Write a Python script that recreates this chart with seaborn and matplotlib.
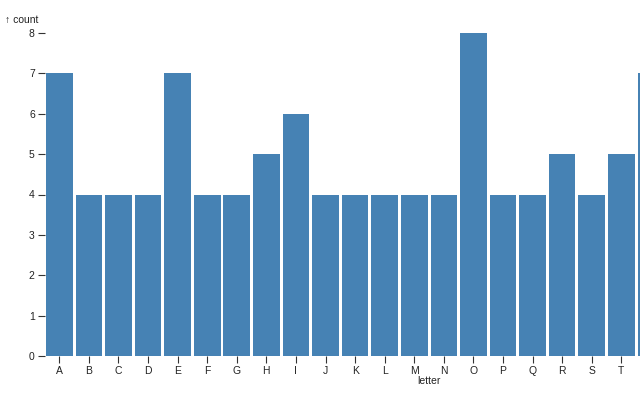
import matplotlib
matplotlib.use("Agg")
import matplotlib.pyplot as plt
import seaborn as sns
import pandas as pd

letters = list("ABCDEFGHIJKLMNOPQRSTU")
counts = [7, 4, 4, 4, 7, 4, 4, 5, 6, 4, 4, 4, 4, 4, 8, 4, 4, 5, 4, 5, 7]

df = pd.DataFrame({"letter": letters, "count": counts})

sns.set_style("white")
plt.rcParams["font.family"] = ["Liberation Sans", "DejaVu Sans"]

fig = plt.figure(figsize=(6.4, 4), dpi=100)
# axes spans the whole alphabet width, so the right part runs off the canvas
step = 29.58
ax = fig.add_axes([44.5 / 640, 44 / 400, 26 * step / 640, 323 / 400])

sns.barplot(data=df, x="letter", y="count", color="#4682b4", saturation=1,
            width=0.9, linewidth=0, ax=ax)

ax.set_xlim(-0.5, 25.5)
ax.set_ylim(0, 8)
ax.set_yticks(range(0, 9))
# the last letter sits past the canvas edge, so no tick for it
ax.set_xticks(range(len(letters) - 1))
ax.set_xticklabels(letters[:-1])
for s in ax.spines.values():
    s.set_visible(False)
ax.tick_params(axis="y", left=True, length=5, width=0.8, color="#333333",
               labelsize=7.5, pad=2, labelcolor="#222222")
ax.tick_params(axis="x", bottom=True, length=5, width=0.8, color="#333333",
               labelsize=7.5, pad=2, labelcolor="#222222")
ax.set_xlabel("letter", fontsize=7.5, labelpad=0, color="#222222")
ax.set_ylabel("")
fig.text(5 / 640, 1 - 20 / 400, "↑ count", fontsize=7.5, va="center",
         ha="left", color="#222222")

fig.savefig("out.png", dpi=100)
